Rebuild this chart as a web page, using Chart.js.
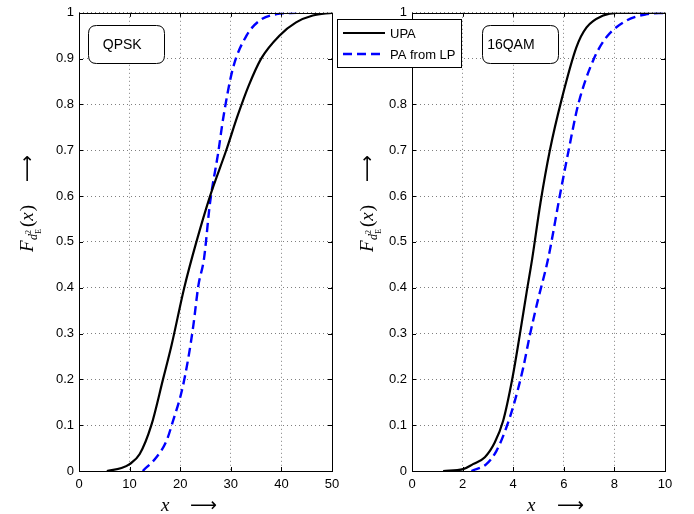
<!DOCTYPE html>
<html>
<head>
<meta charset="utf-8">
<script src="https://cdn.jsdelivr.net/npm/chart.js@4.4.0/dist/chart.umd.min.js"></script>
<style>
  html, body { margin: 0; padding: 0; background: #fff; }
  #wrap { position: relative; width: 694px; height: 514px; }
  #c1 { position: absolute; left: 0; top: 0; }
  #c2 { position: absolute; left: 330px; top: 0; }
</style>
</head>
<body>
<div id="wrap">
  <canvas id="c1" width="347" height="514"></canvas>
  <canvas id="c2" width="364" height="514"></canvas>
</div>
<script>
// values
const seriesNames = ['UPA', 'PA from LP'];
const yTicks = [0, 0.1, 0.2, 0.3, 0.4, 0.5, 0.6, 0.7, 0.8, 0.9, 1];

// QPSK panel
const qpskTicks = [0, 10, 20, 30, 40, 50];
const qpskUpaX = [5.5, 8.4, 10, 12, 14.3, 16.6, 18.3, 20.8, 23.2, 25.9, 29.1, 31.4, 33.5, 36.0, 39.6, 42.9, 46.2, 50];
const qpskUpaY = [0, 0.0065, 0.015, 0.037, 0.10, 0.20, 0.275, 0.40, 0.50, 0.60, 0.70, 0.777, 0.84, 0.90, 0.95, 0.979, 0.994, 1.0];
const qpskPaX = [12.6, 15.3, 17.3, 18.6, 20.3, 21.6, 22.6, 23.6, 24.7, 25.9, 27.5, 28.5, 30.4, 33.1, 35.7, 39, 43];
const qpskPaY = [0, 0.03, 0.066, 0.11, 0.174, 0.246, 0.318, 0.405, 0.463, 0.586, 0.694, 0.77, 0.878, 0.95, 0.983, 0.997, 1.0];

// 16QAM panel
const qamTicks = [0, 2, 4, 6, 8, 10];
const qamUpaX = [1.23, 2.02, 2.41, 2.88, 3.27, 3.6, 3.97, 4.26, 4.53, 4.75, 5.08, 5.45, 5.91, 6.5, 6.9, 7.56, 8.09, 10];
const qamUpaY = [0, 0.004, 0.015, 0.03, 0.062, 0.109, 0.203, 0.297, 0.39, 0.463, 0.586, 0.70, 0.81, 0.925, 0.968, 0.994, 1.0, 1.0];
const qamPaX = [2.35, 2.94, 3.34, 3.73, 4.06, 4.39, 4.66, 4.99, 5.38, 5.84, 6.17, 6.57, 7.16, 7.69, 8.48, 9.27, 10];
const qamPaY = [0, 0.015, 0.044, 0.095, 0.152, 0.224, 0.297, 0.376, 0.463, 0.60, 0.694, 0.80, 0.896, 0.947, 0.983, 0.997, 1.0];

const FONT = "'Liberation Sans', Arial, sans-serif";
const MATH = "'Liberation Serif', 'Times New Roman', serif";

function zip(xs, ys) {
  return xs.map((x, i) => ({ x: x, y: ys[i] }));
}

// frame, inward ticks, axis titles, text box and legend (matlab look)
const decor = {
  id: 'decor',
  afterDraw(chart, args, o) {
    const ctx = chart.ctx;
    const a = chart.chartArea;
    const sx = chart.scales.x, sy = chart.scales.y;
    ctx.save();
    ctx.setLineDash([]);
    ctx.strokeStyle = '#000';
    ctx.lineWidth = 1;
    ctx.strokeRect(Math.round(a.left) + 0.5, Math.round(a.top) + 0.5,
      Math.round(a.right - a.left), Math.round(a.bottom - a.top));
    ctx.beginPath();
    sx.ticks.forEach(t => {
      const px = Math.round(sx.getPixelForValue(t.value)) + 0.5;
      ctx.moveTo(px, a.bottom); ctx.lineTo(px, a.bottom - 4);
      ctx.moveTo(px, a.top); ctx.lineTo(px, a.top + 4);
    });
    sy.ticks.forEach(t => {
      const py = Math.round(sy.getPixelForValue(t.value)) + 0.5;
      ctx.moveTo(a.left, py); ctx.lineTo(a.left + 4, py);
      ctx.moveTo(a.right, py); ctx.lineTo(a.right - 4, py);
    });
    ctx.stroke();

    // y title: F_{d_E^2}(x)  -->
    ctx.fillStyle = '#000';
    ctx.save();
    ctx.translate(o.yTitleX, 252);
    ctx.rotate(-Math.PI / 2);
    ctx.textBaseline = 'alphabetic';
    let cx = 0;
    ctx.font = 'italic 19px ' + MATH;
    ctx.fillText('F', cx, 0); cx += ctx.measureText('F').width + 0.5;
    ctx.font = 'italic 12px ' + MATH;
    ctx.fillText('d', cx, 4); cx += ctx.measureText('d').width;
    ctx.font = '8px ' + MATH;
    ctx.fillText('2', cx, -2);
    ctx.fillText('E', cx, 8);
    cx += ctx.measureText('E').width + 2;
    ctx.font = '19px ' + MATH;
    ctx.fillText('(', cx, 0); cx += ctx.measureText('(').width;
    ctx.font = 'italic 19px ' + MATH;
    ctx.fillText('x', cx, 0); cx += ctx.measureText('x').width + 1;
    ctx.font = '19px ' + MATH;
    ctx.fillText(')', cx, 0);
    drawArrow(ctx, 252 - 182, -5);
    ctx.restore();

    // x title: x  -->
    ctx.save();
    ctx.font = 'italic 19px ' + MATH;
    ctx.textBaseline = 'alphabetic';
    ctx.fillText('x', o.xTitleX, 511);
    ctx.translate(0, 511);
    drawArrow(ctx, o.xArrowX, -5);
    ctx.restore();

    // rounded text box, placed in data coordinates
    const b = o.box;
    const x0 = sx.getPixelForValue(b.x0), x1 = sx.getPixelForValue(b.x1);
    const y0 = sy.getPixelForValue(b.y0), y1 = sy.getPixelForValue(b.y1);
    roundRect(ctx, Math.round(x0) + 0.5, Math.round(y0) + 0.5, Math.round(x1 - x0), Math.round(y1 - y0), 8);
    ctx.fillStyle = '#fff';
    ctx.fill();
    ctx.stroke();
    ctx.fillStyle = '#000';
    ctx.font = '14px ' + FONT;
    ctx.textBaseline = 'middle';
    ctx.fillText(b.text, sx.getPixelForValue(b.tx), (y0 + y1) / 2 + 1);

    if (o.legend) {
      const L = o.legend;
      ctx.fillStyle = '#fff';
      ctx.fillRect(L.x + 0.5, L.y + 0.5, L.w, L.h);
      ctx.strokeRect(L.x + 0.5, L.y + 0.5, L.w, L.h);
      chart.data.datasets.forEach((ds, i) => {
        const ly = L.y + 14 + i * 21;
        ctx.save();
        ctx.strokeStyle = ds.borderColor;
        ctx.lineWidth = ds.borderWidth;
        ctx.setLineDash(ds.borderDash || []);
        ctx.beginPath();
        ctx.moveTo(L.x + 6, ly); ctx.lineTo(L.x + 48, ly);
        ctx.stroke();
        ctx.restore();
        ctx.fillStyle = '#000';
        ctx.font = '13px ' + FONT;
        ctx.textBaseline = 'middle';
        ctx.fillText(ds.label, L.x + 53, ly + 1);
      });
    }
    ctx.restore();
  }
};

function drawArrow(ctx, x, y) {
  ctx.save();
  ctx.font = '19px DejaVu Sans';
  ctx.textBaseline = 'middle';
  const w = ctx.measureText('\u27F6').width;
  ctx.translate(x, y);
  ctx.scale(27 / w, 1);
  ctx.fillText('\u27F6', 0, 0);
  ctx.restore();
}

function roundRect(ctx, x, y, w, h, r) {
  ctx.beginPath();
  ctx.moveTo(x + r, y);
  ctx.lineTo(x + w - r, y);
  ctx.quadraticCurveTo(x + w, y, x + w, y + r);
  ctx.lineTo(x + w, y + h - r);
  ctx.quadraticCurveTo(x + w, y + h, x + w - r, y + h);
  ctx.lineTo(x + r, y + h);
  ctx.quadraticCurveTo(x, y + h, x, y + h - r);
  ctx.lineTo(x, y + r);
  ctx.quadraticCurveTo(x, y, x + r, y);
  ctx.closePath();
}

function makeChart(id, p) {
  return new Chart(document.getElementById(id), {
    type: 'line',
    data: {
      datasets: [
        { label: seriesNames[0], data: zip(p.upaX, p.upaY), borderColor: '#000', borderWidth: 2.2,
          pointRadius: 0, cubicInterpolationMode: 'monotone', fill: false },
        { label: seriesNames[1], data: zip(p.paX, p.paY), borderColor: '#0000ff', borderWidth: 2.4,
          borderDash: [9, 5], pointRadius: 0, cubicInterpolationMode: 'monotone', fill: false }
      ]
    },
    options: {
      responsive: false,
      animation: false,
      devicePixelRatio: 1,
      layout: { padding: { top: 9, right: p.padRight, left: 0, bottom: 0 } },
      plugins: {
        legend: { display: false },
        tooltip: { enabled: false },
        decor: p.decor
      },
      scales: {
        x: {
          type: 'linear', min: p.xTicks[0], max: p.xTicks[p.xTicks.length - 1],
          afterBuildTicks: s => { s.ticks = p.xTicks.map(v => ({ value: v })); },
          ticks: { color: '#000', font: { family: FONT, size: 13 }, padding: 6, maxRotation: 0 },
          grid: { color: 'rgba(0,0,0,0.5)', lineWidth: 1, drawTicks: false },
          border: { display: false, dash: [1, 3] },
          afterFit: s => { s.height = 43; }
        },
        y: {
          type: 'linear', min: 0, max: 1,
          afterBuildTicks: s => { s.ticks = yTicks.map(v => ({ value: v })); },
          ticks: { color: '#000', font: { family: FONT, size: 13 }, padding: 5,
            callback: v => String(Math.round(v * 10) / 10) },
          grid: { color: 'rgba(0,0,0,0.5)', lineWidth: 1, drawTicks: false },
          border: { display: false, dash: [1, 3] },
          afterFit: s => { s.width = p.yWidth; }
        }
      }
    },
    plugins: [decor]
  });
}

makeChart('c1', {
  upaX: qpskUpaX, upaY: qpskUpaY, paX: qpskPaX, paY: qpskPaY, xTicks: qpskTicks,
  yWidth: 79, padRight: 15,
  decor: {
    yTitleX: 33, xTitleX: 161, xArrowX: 190,
    box: { x0: 1.8, x1: 16.9, y0: 0.973, y1: 0.889, text: 'QPSK', tx: 4.7 }
  }
});

makeChart('c2', {
  upaX: qamUpaX, upaY: qamUpaY, paX: qamPaX, paY: qamPaY, xTicks: qamTicks,
  yWidth: 82, padRight: 29,
  decor: {
    yTitleX: 43, xTitleX: 197, xArrowX: 227,
    box: { x0: 2.76, x1: 5.77, y0: 0.973, y1: 0.889, text: '16QAM', tx: 2.97 },
    legend: { x: 7, y: 19, w: 124, h: 48 }
  }
});
</script>
</body>
</html>
